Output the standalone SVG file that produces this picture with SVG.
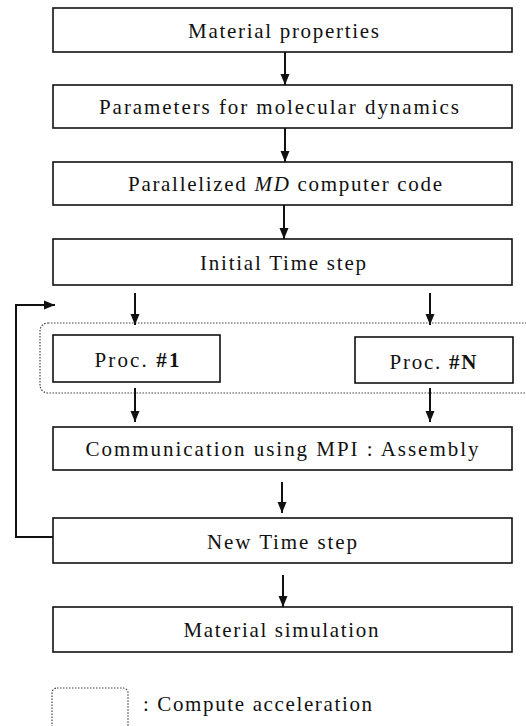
<svg xmlns="http://www.w3.org/2000/svg" width="526" height="726" viewBox="0 0 526 726">
<style>
.box{fill:#fff;stroke:#111;stroke-width:1.6}
.t{font-family:"Liberation Serif","Times New Roman",serif;font-size:21px;fill:#111;text-anchor:middle}
.c{stroke:#111;stroke-width:2;fill:none}
.dot{fill:none;stroke:#444;stroke-width:1.2;stroke-dasharray:1.5 1.5}
</style>
<defs>
<marker id="ah" markerWidth="12" markerHeight="12" refX="11" refY="5" orient="auto" markerUnits="userSpaceOnUse">
<path d="M0,0.5 L11,5 L0,9.5 Z" fill="#111"/>
</marker>
</defs>
<rect class="dot" x="40" y="323" width="500" height="70" rx="8"/>
<g id="n1"><rect class="box" x="53" y="8" width="459" height="44"/><text class="t" x="283.5" y="38" textLength="191" lengthAdjust="spacing">Material properties</text></g>
<g id="n2"><rect class="box" x="53" y="85" width="459" height="43"/><text class="t" x="279" y="114" textLength="360" lengthAdjust="spacing">Parameters for molecular dynamics</text></g>
<g id="n3"><rect class="box" x="53" y="162" width="459" height="43"/><text class="t" x="285" y="191" textLength="314" lengthAdjust="spacing">Parallelized <tspan font-style="italic">MD</tspan> computer code</text></g>
<g id="n4"><rect class="box" x="53" y="239" width="459" height="46"/><text class="t" x="283" y="270" textLength="166" lengthAdjust="spacing">Initial Time step</text></g>
<g id="p1"><rect class="box" x="53" y="335" width="167" height="47"/><text class="t" x="137" y="367" textLength="85" lengthAdjust="spacing">Proc. <tspan font-weight="bold">#1</tspan></text></g>
<g id="pN"><rect class="box" x="355" y="337" width="158" height="46"/><text class="t" x="433" y="369" textLength="87" lengthAdjust="spacing">Proc. <tspan font-weight="bold">#N</tspan></text></g>
<g id="n5"><rect class="box" x="53" y="427" width="459" height="43"/><text class="t" x="282" y="456" textLength="393" lengthAdjust="spacing">Communication using MPI : Assembly</text></g>
<g id="n6"><rect class="box" x="53" y="518" width="459" height="45"/><text class="t" x="282" y="549" textLength="150" lengthAdjust="spacing">New Time step</text></g>
<g id="n7"><rect class="box" x="53" y="607" width="459" height="45"/><text class="t" x="281" y="637" textLength="195" lengthAdjust="spacing">Material simulation</text></g>
<g id="legend"><rect class="dot" x="52" y="688" width="76" height="50" rx="5"/><text class="t" x="143" y="711" style="text-anchor:start" textLength="229" lengthAdjust="spacing">: Compute acceleration</text></g>
<g id="connectors">
<line class="c" x1="285" y1="52" x2="285" y2="85" marker-end="url(#ah)"/>
<line class="c" x1="285" y1="128" x2="285" y2="162" marker-end="url(#ah)"/>
<line class="c" x1="284" y1="205" x2="284" y2="239" marker-end="url(#ah)"/>
<line class="c" x1="135" y1="293" x2="135" y2="325" marker-end="url(#ah)"/>
<line class="c" x1="430" y1="293" x2="430" y2="325" marker-end="url(#ah)"/>
<line class="c" x1="135" y1="388" x2="135" y2="422" marker-end="url(#ah)"/>
<line class="c" x1="430" y1="388" x2="430" y2="422" marker-end="url(#ah)"/>
<line class="c" x1="282" y1="482" x2="282" y2="513" marker-end="url(#ah)"/>
<line class="c" x1="283" y1="575" x2="283" y2="607" marker-end="url(#ah)"/>
<polyline class="c" points="53,537 16,537 16,305 55,305" marker-end="url(#ah)"/>
</g>
</svg>
